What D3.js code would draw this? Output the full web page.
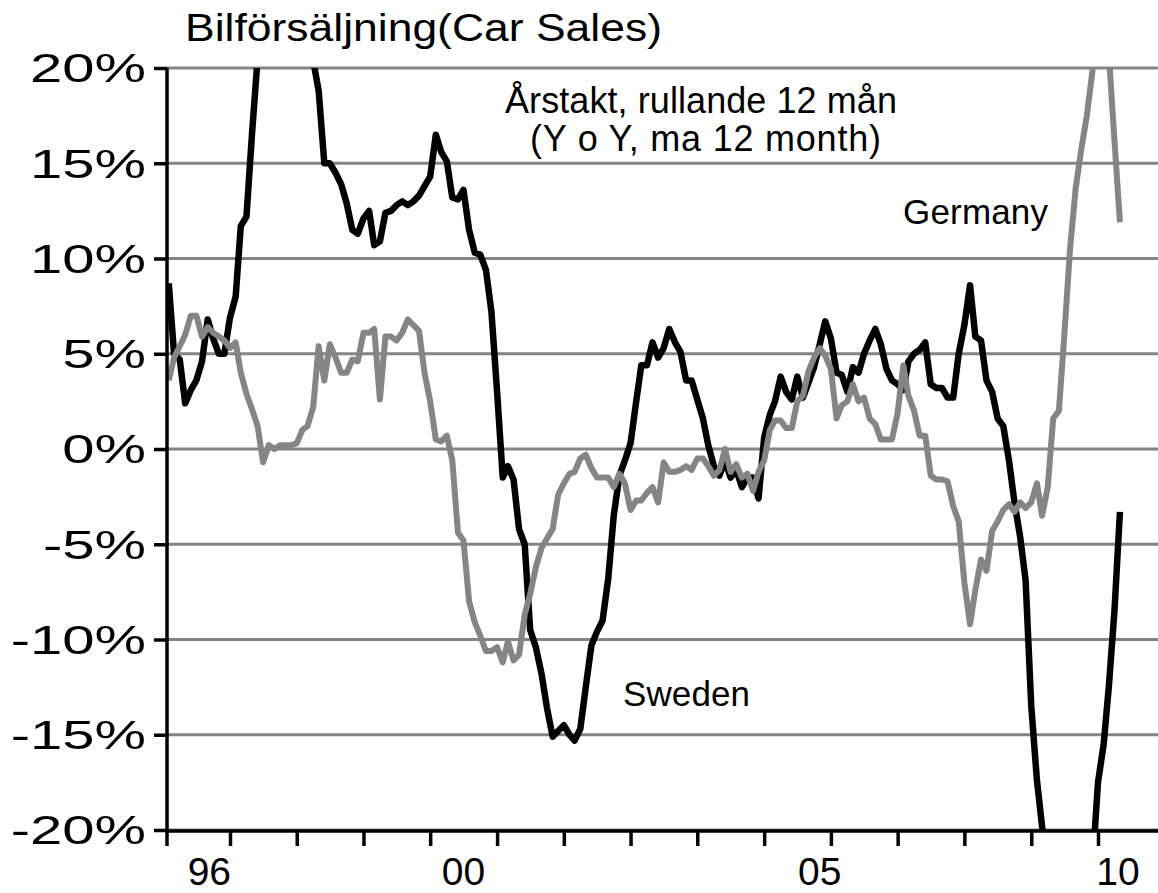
<!DOCTYPE html>
<html>
<head>
<meta charset="utf-8">
<script src="https://cdn.jsdelivr.net/npm/d3@7"></script>
<style>
  body { margin: 0; background: #fff; }
  text { font-family: "Liberation Sans", Arial, sans-serif; fill: #000; }
</style>
</head>
<body>
<svg id="chart" width="1158" height="893"></svg>
<script>
// monthly, Feb 1996 .. May 2010 (rolling 12m y/y, %)
const sweden = [
  8.7, 5.0, 4.7, 2.4, 3.1, 3.6, 4.6, 6.8, 5.8, 5.0,
  5.0, 6.9, 8.0, 11.7, 12.2, 16.5, 20.5, 22.5, 24.0, 25.0,
  25.5, 25.0, 24.0, 23.0, 22.0, 21.0, 20.4, 18.8, 15.0, 15.0,
  14.5, 13.9, 12.9, 11.5, 11.3, 12.1, 12.5, 10.7, 10.9, 12.4,
  12.5, 12.8, 13.0, 12.8, 13.0, 13.3, 13.8, 14.3, 16.5, 15.6,
  15.1, 13.2, 13.1, 13.6, 11.5, 10.3, 10.2, 9.4, 7.2, 3.0,
  -1.5, -0.9, -1.6, -4.2, -5.0, -9.5, -10.4, -11.8, -13.6, -15.1,
  -14.8, -14.5, -15.0, -15.3, -14.7, -12.5, -10.3, -9.6, -9.0, -6.8,
  -3.5, -1.4, -0.6, 0.3, 2.5, 4.4, 4.4, 5.6, 4.8, 5.3,
  6.3, 5.6, 5.1, 3.6, 3.6, 2.6, 1.6, 0.2, -0.9, -1.4,
  -0.6, -1.5, -1.1, -2.0, -1.5, -1.5, -2.6, 0.6, 1.8, 2.5,
  3.8, 3.0, 2.6, 3.8, 2.7, 3.5, 4.3, 5.5, 6.7, 5.8,
  4.0, 3.9, 3.0, 4.3, 4.0, 5.0, 5.7, 6.3, 5.5, 4.2,
  3.6, 3.4, 3.1, 4.6, 5.0, 5.2, 5.6, 3.4, 3.2, 3.2,
  2.7, 2.7, 5.0, 6.5, 8.6, 5.9, 5.7, 3.6, 3.0, 1.6,
  1.2, -0.6, -2.8, -4.6, -6.9, -13.5, -17.4, -19.8, -22.0, -24.0,
  -26.0, -28.0, -28.0, -27.0, -26.0, -24.0, -22.0, -17.5, -15.5, -12.5,
  -8.5, -3.3
];
const germany = [
  3.6, 4.8, 5.4, 6.0, 7.0, 7.0, 5.9, 6.4, 6.1, 5.9,
  5.7, 5.3, 5.6, 4.0, 2.9, 2.1, 1.2, -0.7, 0.2, 0.0,
  0.2, 0.2, 0.2, 0.3, 1.0, 1.2, 2.2, 5.4, 3.6, 5.5,
  4.8, 4.0, 4.0, 4.7, 4.6, 6.1, 6.1, 6.3, 2.6, 5.9,
  5.9, 5.7, 6.1, 6.8, 6.5, 6.2, 4.0, 2.5, 0.5, 0.4,
  0.7, -0.6, -4.4, -4.8, -8.0, -9.1, -9.8, -10.6, -10.6, -10.4,
  -11.2, -10.1, -11.1, -10.8, -8.7, -7.6, -6.2, -5.2, -4.7, -4.2,
  -2.4, -1.8, -1.3, -1.2, -0.5, -0.3, -1.0, -1.5, -1.5, -1.5,
  -2.0, -1.3, -1.8, -3.2, -2.7, -2.7, -2.3, -2.0, -2.8, -0.7,
  -1.2, -1.2, -1.1, -0.9, -1.1, -0.5, -0.5, -0.9, -1.4, -1.1,
  0.0, -1.2, -0.8, -1.5, -1.3, -2.2, -1.2, -0.6, 1.0, 1.5,
  1.5, 1.1, 1.1, 2.5, 2.8, 4.1, 4.8, 5.3, 4.9, 4.2,
  1.6, 2.3, 2.5, 3.4, 2.5, 2.7, 1.6, 1.3, 0.5, 0.5,
  0.5, 1.9, 4.4, 2.8, 2.0, 0.7, 0.7, -1.4, -1.6, -1.6,
  -1.7, -3.0, -3.8, -7.0, -9.2, -7.4, -5.8, -6.4, -4.3, -3.8,
  -3.2, -2.9, -3.3, -2.8, -3.1, -2.8, -1.8, -3.5, -2.0, 1.6,
  2.0, 6.0, 10.5, 13.7, 15.7, 17.5, 19.8, 22.5, 23.0, 20.8,
  16.2, 11.9
];
const yTicks = [20, 15, 10, 5, 0, -5, -10, -15, -20];
const xLabels = ["96", "00", "05", "10"];
const xLabelDates = [new Date(1996, 8, 10), new Date(2000, 6, 1), new Date(2005, 10, 1), new Date(2010, 3, 20)];

const months = d3.timeMonth.range(new Date(1996, 1, 1), new Date(2010, 5, 1));
const yearTicks = d3.timeYear.range(new Date(1997, 0, 1), new Date(2010, 0, 2));

const svg = d3.select('#chart');
const plotLeft = 167, plotRight = 1158, plotTop = 68, plotBottom = 830;

const x = d3.scaleTime()
  .domain([new Date(1997, 0, 1), new Date(2010, 0, 1)])
  .range([230, 1098]);
const y = d3.scaleLinear().domain([-20, 20]).range([plotBottom, plotTop]);

// gridlines
svg.append('g').selectAll('line')
  .data(yTicks)
  .enter().append('line')
  .attr('x1', plotLeft).attr('x2', plotRight)
  .attr('y1', d => y(d)).attr('y2', d => y(d))
  .attr('stroke', '#848484').attr('stroke-width', 3);

// lines
svg.append('clipPath').attr('id', 'clip')
  .append('rect').attr('x', plotLeft).attr('y', plotTop)
  .attr('width', plotRight - plotLeft).attr('height', plotBottom - plotTop);

const line = d3.line().x((d, i) => x(months[i])).y(d => y(d));
const plot = svg.append('g').attr('clip-path', 'url(#clip)');
plot.append('path').datum(sweden)
  .attr('d', line).attr('fill', 'none')
  .attr('stroke', '#000').attr('stroke-width', 6.5).attr('stroke-linejoin', 'round');
plot.append('path').datum(germany)
  .attr('d', line).attr('fill', 'none')
  .attr('stroke', '#858585').attr('stroke-width', 6).attr('stroke-linejoin', 'round');

// x axis
const xAxis = d3.axisBottom(x).tickValues(yearTicks).tickFormat('').tickSize(15).tickSizeOuter(0);
const gx = svg.append('g').attr('transform', `translate(0,${plotBottom + 1})`).call(xAxis);
gx.select('.domain').attr('d', `M${plotLeft},0H${plotRight}`).attr('stroke-width', 3.5);
gx.selectAll('.tick line').attr('stroke-width', 3.5);

// y axis
const yAxis = d3.axisLeft(y).tickValues(yTicks).tickFormat('').tickSize(13).tickSizeOuter(0);
const gy = svg.append('g').attr('transform', `translate(${plotLeft},0)`).call(yAxis);
gy.select('.domain').attr('d', `M0,${plotTop}V${plotBottom + 16}`).attr('stroke-width', 3.5);
gy.selectAll('.tick line').attr('stroke-width', 3.5);

// tick labels (the original's labels are drawn wide)
svg.append('g').selectAll('text')
  .data(yTicks)
  .enter().append('text')
  .attr('transform', d => `translate(146,${y(d)}) scale(1.45,1)`)
  .attr('dy', '0.36em')
  .attr('text-anchor', 'end')
  .style('font-size', '40px')
  .text(d => d + '%');

svg.append('g').selectAll('text')
  .data(xLabels)
  .enter().append('text')
  .attr('x', (d, i) => x(xLabelDates[i])).attr('y', 885)
  .attr('text-anchor', 'middle')
  .style('font-size', '39px')
  .text(d => d);

// title and notes
svg.append('text').attr('x', 185).attr('y', 41)
  .style('font-size', '38px').attr('textLength', 477).attr('lengthAdjust', 'spacingAndGlyphs')
  .text('Bilförsäljning(Car Sales)');
svg.append('text').attr('x', 505).attr('y', 113)
  .style('font-size', '36px').attr('textLength', 392).attr('lengthAdjust', 'spacing')
  .text('Årstakt, rullande 12 mån');
svg.append('text').attr('x', 530).attr('y', 151)
  .style('font-size', '36px').attr('textLength', 351).attr('lengthAdjust', 'spacing')
  .text('(Y o Y, ma 12 month)');
svg.append('text').attr('x', 903).attr('y', 224)
  .style('font-size', '35px').attr('textLength', 145).attr('lengthAdjust', 'spacing')
  .text('Germany');
svg.append('text').attr('x', 623).attr('y', 706)
  .style('font-size', '35px').attr('textLength', 127).attr('lengthAdjust', 'spacing')
  .text('Sweden');
</script>
</body>
</html>
